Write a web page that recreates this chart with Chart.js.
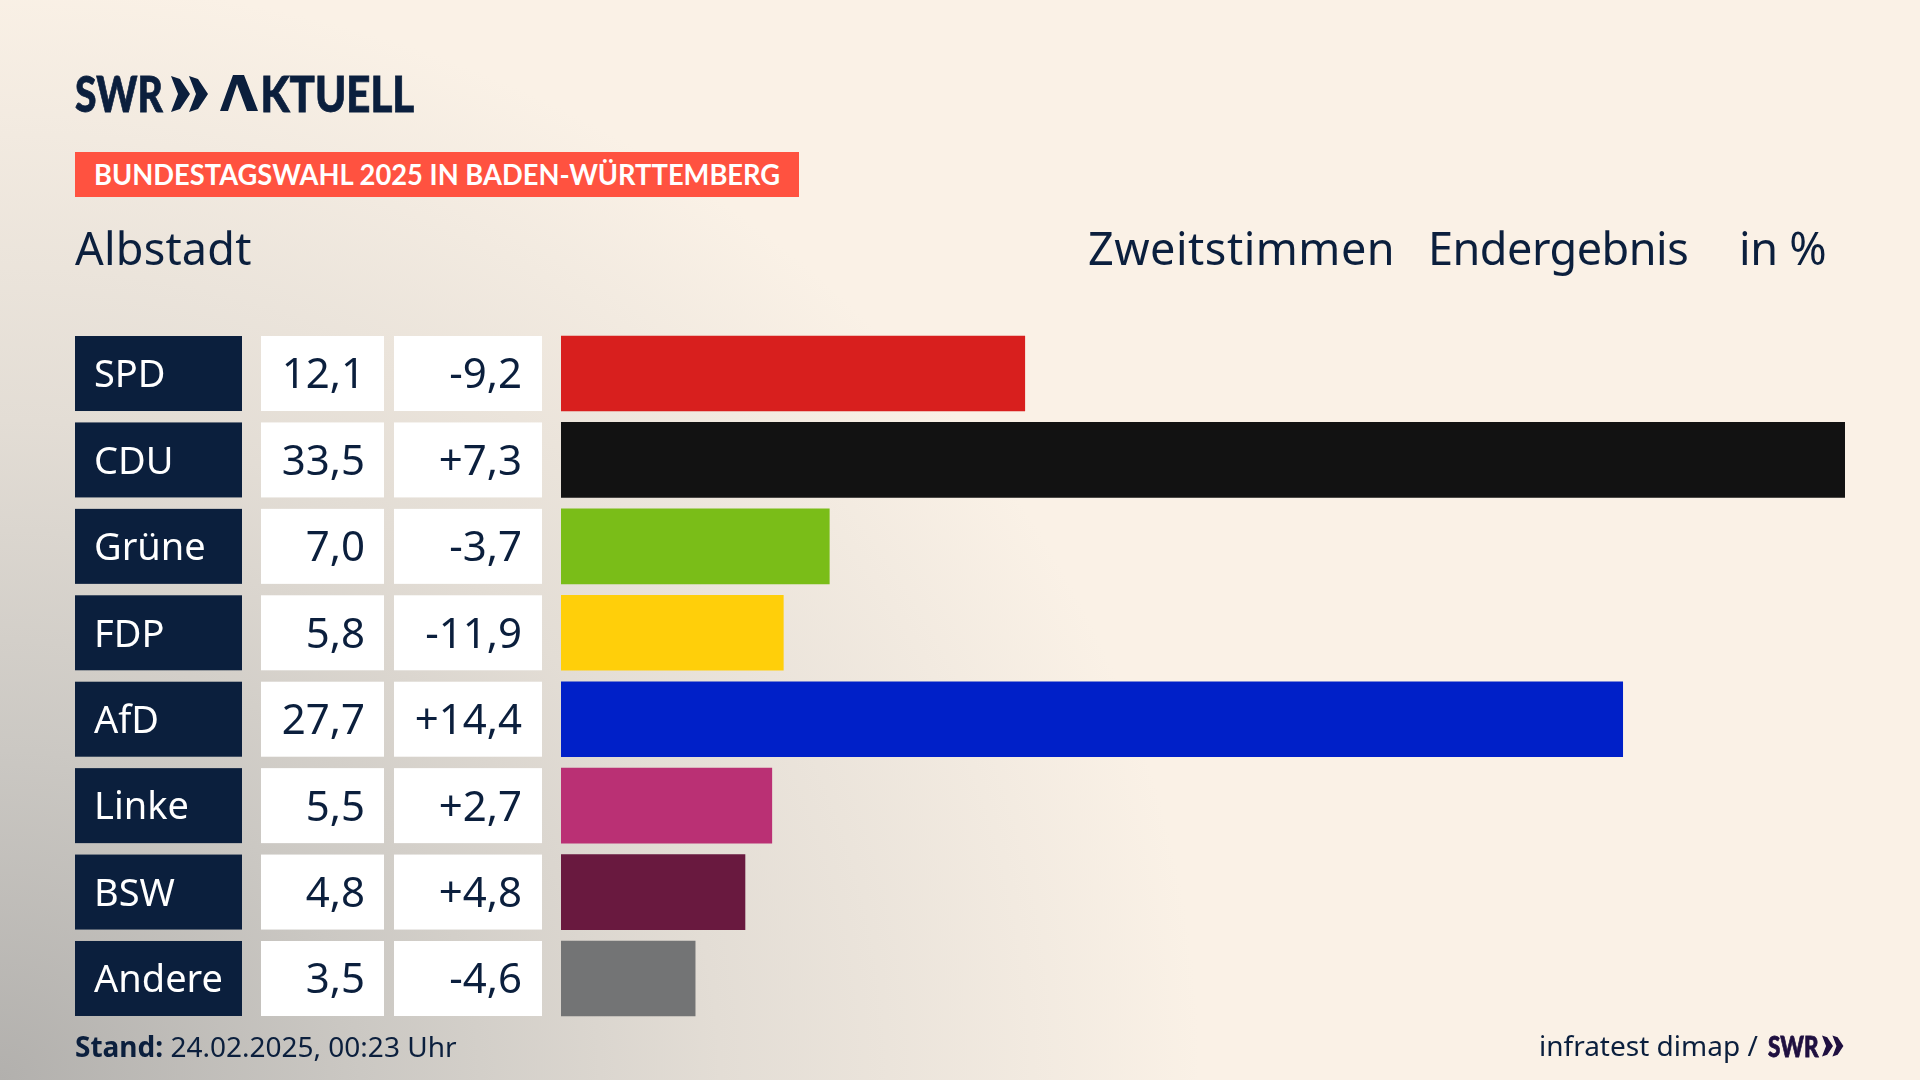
<!DOCTYPE html>
<html lang="de">
<head>
<meta charset="utf-8">
<title>Bundestagswahl 2025 Albstadt</title>
<script src="https://cdn.jsdelivr.net/npm/chart.js@4"></script>
<style>
  html, body { margin: 0; padding: 0; }
  body {
    width: 1920px; height: 1080px; overflow: hidden; position: relative;
    background-color: #faf1e6;
    background-image: radial-gradient(ellipse 1200px 1100px at 0% 100%, #b2b0ad 0%, #cbc8c3 30%, #e3ddd5 60%, #faf1e6 100%);
    font-family: "Noto Sans", sans-serif; color: #0b1f3d;
  }
  canvas { position: absolute; left: 0; top: 0; }
  .t { position: absolute; white-space: nowrap; line-height: 1; transform-origin: left center; }
  .logo { font-family: Lato, sans-serif; font-weight: 900; -webkit-text-stroke: .8px currentColor; }
  svg { position: absolute; }
</style>
</head>
<body>
<canvas id="chart" width="1920" height="1080"></canvas>

<div class="t logo" style="left:75px;top:68px;font-size:50px;transform:scaleX(.78)">SWR</div>
<svg style="left:171px;top:75px" width="38" height="38" viewBox="0 0 38 38" fill="#0b1f3d">
  <polygon points="0,1 9,4 19,19 9,34 0,37 7,19"/><polygon points="18,1 27,4 37,19 27,34 18,37 25,19"/>
</svg>
<div class="t logo" style="left:220px;top:68px;font-size:50px;transform:scaleX(.84)"><span style="color:transparent;-webkit-text-stroke:0;margin-right:13px">A</span>KTUELL</div>
<svg style="left:220px;top:75px" width="38" height="36" viewBox="0 0 38 36" fill="#0b1f3d">
  <polygon points="0,36 13,0 24,0 38,36 27,36 17,9 8,36"/>
</svg>

<div style="position:absolute;left:75px;top:152px;width:724px;height:45px;background:#ff5240"></div>
<div class="t" style="left:94px;top:160px;font-family:Lato,sans-serif;font-size:28px;font-weight:700;color:#fff;transform:scaleX(.975)">BUNDESTAGSWAHL 2025 IN BADEN-WÜRTTEMBERG</div>

<div class="t" style="left:75px;top:225px;font-size:45px;letter-spacing:.2px">Albstadt</div>
<div class="t" style="left:1088px;top:225px;font-size:45px;letter-spacing:.5px">Zweitstimmen</div>
<div class="t" style="left:1428px;top:225px;font-size:45px;letter-spacing:-.5px">Endergebnis</div>
<div class="t" style="left:1739px;top:225px;font-size:45px;letter-spacing:-.3px">in %</div>

<div class="t" style="left:75px;top:1032px;font-size:28px"><b>Stand:</b> 24.02.2025, 00:23 Uhr</div>
<div class="t" style="left:1539px;top:1031px;font-size:28px">infratest dimap /</div>
<div class="t logo" style="left:1768px;top:1032px;font-size:28px;color:#1f1040;transform:scaleX(.8)">SWR</div>
<svg style="left:1821px;top:1035px" width="24" height="22" viewBox="0 0 38 38" fill="#1f1040">
  <polygon points="0,1 9,4 19,19 9,34 0,37 7,19"/><polygon points="18,1 27,4 37,19 27,34 18,37 25,19"/>
</svg>

<script>
const NAVY = '#0b1f3d';
const FONT = '"Noto Sans", sans-serif';

const parties = ['SPD', 'CDU', 'Grüne', 'FDP', 'AfD', 'Linke', 'BSW', 'Andere'];
const results = [12.1, 33.5, 7.0, 5.8, 27.7, 5.5, 4.8, 3.5];
const changes = [-9.2, 7.3, -3.7, -11.9, 14.4, 2.7, 4.8, -4.6];
const barColors = ['#d81f1e', '#121212', '#7abd18', '#ffcf0a', '#0020c8', '#ba3074', '#69193f', '#737475'];

function fmt(value) {
  return value.toFixed(1).replace('.', ',');
}

function fmtChange(value) {
  return (value > 0 ? '+' : '') + fmt(value);
}

// linke Spalten: Partei, Ergebnis, Differenz
const tableColumns = {
  id: 'tableColumns',
  beforeDatasetsDraw(chart) {
    const ctx = chart.ctx;
    const y = chart.scales.y;
    ctx.save();
    ctx.textBaseline = 'middle';
    parties.forEach((party, i) => {
      const mid = y.getPixelForValue(i);
      const top = mid - 37.5;

      ctx.fillStyle = NAVY;
      ctx.fillRect(75, top, 167, 75);
      ctx.fillStyle = '#ffffff';
      ctx.fillRect(261, top, 123, 75);
      ctx.fillRect(394, top, 148, 75);

      ctx.font = '38px ' + FONT;
      ctx.textAlign = 'left';
      ctx.fillStyle = '#ffffff';
      ctx.fillText(party, 94, mid + 3);

      ctx.font = '42px ' + FONT;
      ctx.textAlign = 'right';
      ctx.fillStyle = NAVY;
      ctx.fillText(fmt(results[i]), 365, mid + 3);
      ctx.fillText(fmtChange(changes[i]), 522, mid + 3);
    });
    ctx.restore();
  }
};

new Chart(document.getElementById('chart'), {
  type: 'bar',
  data: {
    labels: parties,
    datasets: [{
      data: results,
      backgroundColor: barColors,
      barThickness: 75,
      borderWidth: 0
    }]
  },
  options: {
    indexAxis: 'y',
    responsive: false,
    animation: false,
    layout: { padding: { left: 561, right: 75, top: 330.3, bottom: 58.3 } },
    plugins: { legend: { display: false }, tooltip: { enabled: false } },
    scales: {
      x: { display: false, min: 0, max: 33.5 },
      y: { display: false }
    }
  },
  plugins: [tableColumns]
});
</script>
</body>
</html>
